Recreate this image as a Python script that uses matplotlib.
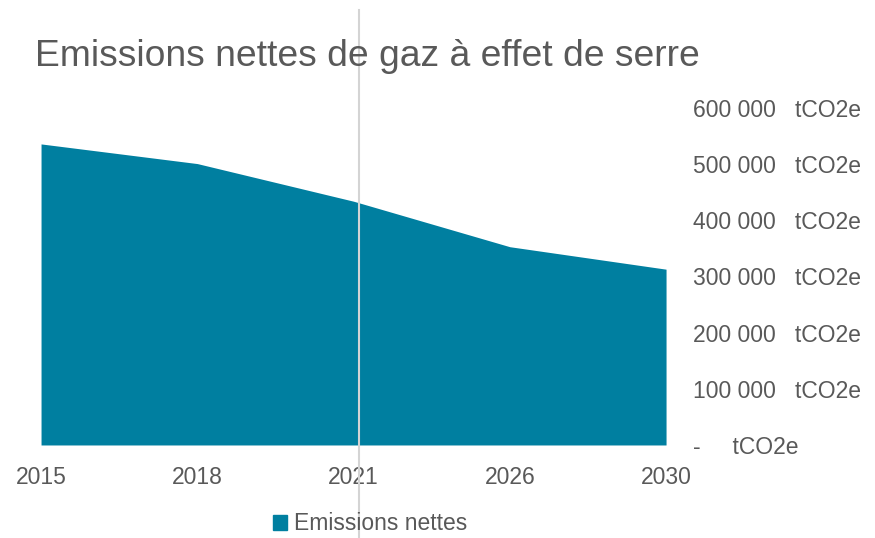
import matplotlib
matplotlib.use('Agg')
import matplotlib.pyplot as plt
from matplotlib.patches import Patch
from matplotlib.lines import Line2D
import numpy as np

plt.rcParams['font.family'] = ['Liberation Sans', 'DejaVu Sans']

# data
years = ['2015', '2018', '2021', '2026', '2030']
emissions = [536000, 501000, 434000, 353000, 313000]
yticks = [0, 100000, 200000, 300000, 400000, 500000, 600000]
ytick_labels = ['-     tCO2e', '100 000   tCO2e', '200 000   tCO2e', '300 000   tCO2e',
                '400 000   tCO2e', '500 000   tCO2e', '600 000   tCO2e']

grey = '#595959'
teal = '#007FA0'

fig = plt.figure(figsize=(8.75, 5.38), dpi=100)
ax = fig.add_axes([0.0469, 0.1729, 0.7143, 0.6264])

x = np.arange(len(years))
ax.fill_between(x, 0, emissions, color=teal, linewidth=0)
ax.set_xlim(x[0], x[-1])
ax.set_ylim(0, 600000)

ax.set_xticks(x)
ax.set_xticklabels(years, fontsize=16.5, color=grey)
ax.yaxis.tick_right()
ax.set_yticks(yticks)
ax.set_yticklabels(ytick_labels, fontsize=16.5, color=grey)
ax.tick_params(axis='both', length=0)
ax.tick_params(axis='y', pad=19.5)
ax.tick_params(axis='x', pad=15)
for s in ax.spines.values():
    s.set_visible(False)

fig.text(0.040, 0.878, 'Emissions nettes de gaz à effet de serre', fontsize=26.8, color=grey)

# vertical marker line at 2021
fig.add_artist(Line2D([359/875, 359/875], [0, 1 - 10/538], color='#d4d4d4', linewidth=1.5))

fig.legend(handles=[Patch(color=teal, label='Emissions nettes')], loc='center',
           bbox_to_anchor=(370/875, 1 - 524/538), frameon=False, fontsize=16.5,
           labelcolor=grey, handlelength=0.6, handleheight=0.6, handletextpad=0.3)

fig.savefig('out.png', dpi=100)
